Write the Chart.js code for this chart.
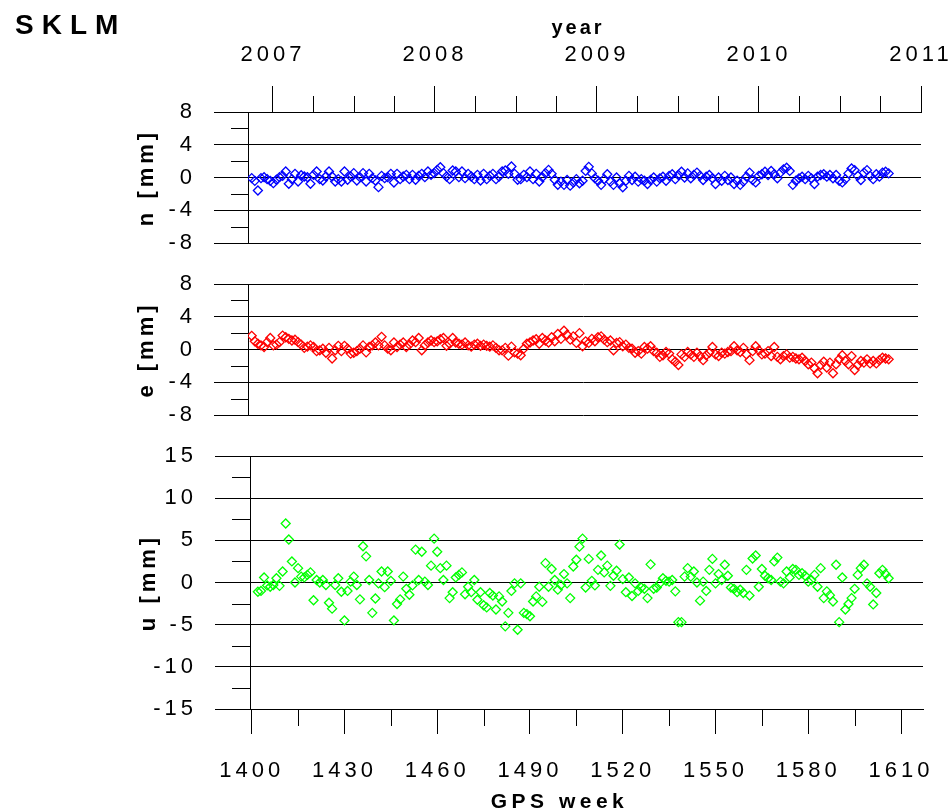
<!DOCTYPE html>
<html><head><meta charset="utf-8">
<script src="https://cdn.jsdelivr.net/npm/chart.js@4.4.1/dist/chart.umd.min.js"></script>
<style>
html,body{margin:0;padding:0;background:#fff;}
#wrap{position:relative;width:949px;height:812px;overflow:hidden;background:#fff;font-family:'Liberation Sans',Arial,sans-serif;}
#wrap canvas{position:absolute;left:0;top:0;}
.lbl{position:absolute;font-weight:bold;color:#000;white-space:nowrap;line-height:1;text-align:center;}
</style></head><body>
<div id="wrap">
<canvas id="cn" width="949" height="812"></canvas>
<canvas id="ce" width="949" height="812"></canvas>
<canvas id="cu" width="949" height="812"></canvas>
<div class="lbl" style="left:15px;top:11px;font-size:28px;letter-spacing:8px;text-align:left;">SKLM</div>
<div class="lbl" style="left:375px;width:400px;top:17px;font-size:20px;letter-spacing:3px;padding-left:3px;">year</div>
<div class="lbl" style="left:355px;width:400px;top:790px;font-size:21px;letter-spacing:4.5px;padding-left:4.5px;">GPS week</div>
</div>
<script>
// ---------------- data ----------------
const weeks = [
1400,1401,1402,1403,1404,1405,1406,1407,1408,1409,1410,1411,1412,1413,1414,1415,1416,1417,1418,1419,
1420,1421,1422,1423,1424,1425,1426,1427,1428,1429,1430,1431,1432,1433,1434,1435,1436,1437,1438,1439,
1440,1441,1442,1443,1444,1445,1446,1447,1448,1449,1450,1451,1452,1453,1454,1455,1456,1457,1458,1459,
1460,1461,1462,1463,1464,1465,1466,1467,1468,1469,1470,1471,1472,1473,1474,1475,1476,1477,1478,1479,
1480,1481,1482,1483,1484,1485,1486,1487,1488,1489,1490,1491,1492,1493,1494,1495,1496,1497,1498,1499,
1500,1501,1502,1503,1504,1505,1506,1507,1508,1509,1510,1511,1512,1513,1514,1515,1516,1517,1518,1519,
1520,1521,1522,1523,1524,1525,1526,1527,1528,1529,1530,1531,1532,1533,1534,1535,1536,1537,1538,1539,
1540,1541,1542,1543,1544,1545,1546,1547,1548,1549,1550,1551,1552,1553,1554,1555,1556,1557,1558,1559,
1560,1561,1562,1563,1564,1565,1566,1567,1568,1569,1570,1571,1572,1573,1574,1575,1576,1577,1578,1579,
1580,1581,1582,1583,1584,1585,1586,1587,1588,1589,1590,1591,1592,1593,1594,1595,1596,1597,1598,1599,
1600,1601,1602,1603,1604,1605,1606];

const nValues = [
-0.08,-0.41,-1.59,-0.08,0.04,-0.2,-0.41,-0.69,-0.28,0.04,
0.2,0.73,-0.77,-0.2,0.45,-0.49,0.28,0.12,0.04,-0.77,
0.33,0.73,-0.2,-0.37,0.12,0.73,0.12,-0.49,-0.2,-0.49,
0.73,-0.28,0.12,0.53,-0.37,0.04,0.53,-0.49,0.45,-0.08,
-0.37,-1.18,0.2,-0.08,0.04,0.45,-0.61,0.45,-0.2,0.12,
0.33,-0.2,0.33,-0.28,0.2,0.45,0.04,0.73,0.33,0.53,
0.93,1.26,0.53,0.12,-0.2,0.85,0.73,0.04,0.73,-0.08,
0.45,0.12,-0.2,0.33,-0.37,0.45,-0.2,0.2,0.45,-0.2,
0.12,0.73,0.85,0.45,1.34,0.45,-0.28,-0.2,0.33,0.04,
0.73,-0.2,0.45,-0.49,0.04,0.53,0.93,0.45,-0.28,-0.89,
-0.5,-0.9,-0.3,-1.0,-0.6,-0.2,-0.7,-0.4,0.8,1.3,
0.5,-0.1,-0.4,-0.9,-0.2,0.4,-0.5,-0.9,0.0,-0.7,
-1.2,-0.4,0.2,-0.3,0.1,-0.5,-0.2,-0.4,-0.8,-0.3,
0.0,-0.5,-0.1,0.1,-0.4,0.2,0.4,-0.2,0.3,0.7,
0.0,0.5,-0.1,0.3,0.6,0.2,-0.3,0.1,0.3,-0.1,
-0.8,0.0,-0.4,0.2,-0.3,0.0,-0.8,-0.4,-0.9,-0.5,
0.1,0.6,-0.3,-0.6,0.2,0.4,0.7,0.3,0.8,0.4,
-0.1,0.6,1.0,1.2,0.8,-0.9,-0.4,-0.1,0.1,-0.2,
0.2,-0.1,-0.8,0.1,0.3,0.4,0.1,0.3,-0.1,0.3,
-0.4,-0.6,-0.2,0.5,1.1,0.9,0.2,-0.3,0.6,0.9,
0.2,-0.2,0.4,0.1,0.6,0.7,0.5];

const eValues = [
1.67,1.0,0.7,0.5,0.3,0.9,1.4,0.5,0.6,0.9,
1.7,1.5,1.3,1.1,1.2,0.9,0.6,0.2,0.35,0.5,
0.3,-0.2,-0.1,0.1,-0.4,0.2,-1.1,-0.1,0.45,-0.2,
0.45,0.1,-0.5,-0.4,-0.2,0.1,0.5,-0.35,0.3,0.5,
0.85,0.5,1.55,0.5,0.1,-0.1,0.85,0.3,0.6,0.85,
0.3,0.6,1.1,0.9,1.4,-0.1,0.5,0.85,1.1,0.9,
1.0,1.25,1.4,0.45,0.7,1.4,0.85,0.7,0.6,0.85,
0.5,0.35,0.6,0.7,0.45,0.6,0.45,0.35,0.5,0.2,
-0.1,-0.1,0.2,-0.75,0.35,-0.35,-0.5,-0.7,0.1,0.7,
0.85,1.1,1.25,0.7,1.4,1.1,0.85,
1.5,1.0,1.9,1.3,2.3,1.8,1.2,1.6,0.8,2.0,
0.4,1.0,0.8,1.3,1.0,1.5,1.6,1.2,0.9,1.1,
-0.1,0.8,0.9,0.4,0.6,0.2,0.1,-0.4,-0.2,-0.5,
0.3,0.1,0.4,-0.2,-0.4,-0.9,-0.7,-0.3,-0.5,-1.2,
-1.5,-1.9,-0.6,-0.9,-0.3,-0.6,-0.9,-0.4,-0.8,-1.3,
-0.7,-0.4,0.3,-0.6,-0.8,-0.4,-0.5,-0.3,-0.2,0.4,
-0.1,-0.3,0.2,-0.6,-1.3,-0.2,0.4,-0.1,-0.6,-0.5,
-0.2,-0.8,0.3,-0.9,-1.2,-0.8,-0.6,-1.0,-0.9,-1.1,
-1.2,-1.0,-1.4,-1.8,-1.6,-2.3,-2.9,-1.9,-1.5,-2.2,
-1.6,-2.9,-1.8,-1.2,-0.7,-1.4,-1.8,-0.8,-2.5,-1.9,
-1.4,-1.6,-1.2,-1.7,-1.4,-1.7,-1.3,-1.0,-1.1,-1.2];

const uValues = [
null,null,-1.1,-1.0,0.6,-0.35,-0.5,-0.3,0.5,-0.4,
1.3,7.0,5.1,2.5,0.0,1.7,0.7,0.6,0.9,1.2,
-2.1,0.3,0.0,0.3,-0.3,-2.4,-3.1,-0.3,0.5,-1.1,
-4.5,-1.0,0.1,0.7,-0.3,-2.0,4.3,3.1,0.3,-3.6,
-1.9,-0.1,1.3,-0.55,1.3,0.2,-4.5,-2.55,-2.0,0.7,
-0.75,-1.45,-0.35,3.9,0.3,3.65,0.1,-0.3,2.0,5.2,
3.65,1.7,0.3,2.0,-1.85,-1.15,0.6,0.9,1.2,-1.4,
-0.5,-1.15,0.3,-2.05,-1.15,-2.7,-2.95,-1.25,-1.55,-3.2,
-1.65,-2.25,-5.2,-3.6,-1.0,-0.1,-5.6,-0.1,-3.6,-3.75,
-4.0,-2.25,-1.65,-0.5,-2.3,2.3,-0.5,1.6,0.3,-0.85,
-0.3,1.0,-0.1,-1.85,1.9,2.7,4.25,5.2,-0.6,2.8,
0.2,-0.35,1.5,3.2,1.2,2.0,-0.4,0.8,1.4,4.5,
0.4,-1.15,0.6,-1.6,-0.1,-1.0,-0.6,-0.75,-1.85,2.15,
-0.75,-0.6,-0.1,0.5,0.2,0.1,0.3,-1.05,-4.7,-4.7,
0.7,1.7,0.7,1.3,0.0,-2.15,0.1,-1.0,1.5,2.8,
-0.1,1.0,0.3,2.1,0.8,-0.6,-0.75,-1.15,-0.85,-1.25,
1.5,-1.55,2.85,3.2,-0.5,1.6,0.8,0.5,0.3,2.5,
2.95,0.1,-0.1,1.3,0.6,1.6,1.5,0.9,1.1,0.8,
0.1,0.3,0.9,-0.5,1.7,-1.85,-1.05,-1.5,-2.25,2.1,
-4.7,0.6,-3.2,-2.55,-1.85,-0.75,0.9,1.7,2.1,-0.1,
-0.5,-2.6,-1.25,1.1,1.5,1.0,0.5];

const weekTicks = [1400,1430,1460,1490,1520,1550,1580,1610];
const weekMinorTicks = [1415,1445,1475,1505,1535,1565,1595];
const yearTicks = [2007,2008,2009,2010,2011];
const yearMinorTicks = [2007.25,2007.5,2007.75,2008.25,2008.5,2008.75,2009.25,2009.5,2009.75,2010.25,2010.5,2010.75];
const neTicks = [-8,-4,0,4,8];
const neMinorTicks = [-6,-2,2,6];
const uTicks = [-15,-10,-5,0,5,10,15];
const uMinorTicks = [-12.5,-7.5,-2.5,2.5,7.5,12.5];

// ---------------- helpers ----------------
const FONT = "'Liberation Sans', Arial, sans-serif";
const LS = '4px';
const spacingPlugin = {
  id: 'spacing',
  beforeUpdate(c){ c.ctx.letterSpacing = LS; },
  beforeLayout(c){ c.ctx.letterSpacing = LS; },
  beforeDraw(c){ c.ctx.letterSpacing = LS; }
};
function minorPlugin(list){
  return {
    id: 'minorTicks',
    afterDraw(chart){
      const ctx = chart.ctx;
      ctx.save();
      ctx.strokeStyle = '#000';
      ctx.lineWidth = 1;
      list.forEach(m => {
        const s = chart.scales[m.axis];
        m.values.forEach(v => {
          const p = Math.round(s.getPixelForValue(v)) + 0.5;
          ctx.beginPath();
          if (m.side === 'left') { ctx.moveTo(s.right - m.len, p); ctx.lineTo(s.right, p); }
          else if (m.side === 'top') { ctx.moveTo(p, s.bottom - m.len); ctx.lineTo(p, s.bottom); }
          else { ctx.moveTo(p, s.top); ctx.lineTo(p, s.top + m.len); }
          ctx.stroke();
        });
      });
      ctx.restore();
    }
  };
}
function pts(vals){
  const out = [];
  weeks.forEach((w,i) => { if (vals[i] !== null && vals[i] !== undefined) out.push({x:w, y:vals[i]}); });
  return out;
}
function ds(vals, color){
  return {
    data: pts(vals), showLine:false, pointStyle:'rectRot', pointRadius:4.5,
    pointBorderWidth:1.3, borderColor:color, backgroundColor:'rgba(0,0,0,0)',
    pointBackgroundColor:'rgba(0,0,0,0)', pointBorderColor:color
  };
}
function noPad(s){ s.paddingLeft = 0; s.paddingRight = 0; s.paddingTop = 0; s.paddingBottom = 0; }
function yAxis(min, max, ticksArr, title, width, tl){
  return {
    type:'linear', position:'left', min:min, max:max,
    afterBuildTicks: s => { s.ticks = ticksArr.map(v => ({value:v})); },
    afterFit: s => { s.width = width; noPad(s); },
    grid:{ color:'#000', lineWidth:1, tickLength:tl, drawTicks:true, drawOnChartArea:true },
    border:{ display:true, color:'#000', width:1 },
    ticks:{ color:'#000', padding:18, font:{family:FONT, size:22}, callback:v => String(v) },
    title:{ display:true, text:title, color:'#000', font:{family:FONT, size:22, weight:'bold'}, padding:{top:width-114, bottom:0} }
  };
}
function hiddenX(min,max){
  return { type:'linear', min:min, max:max, display:false };
}
const common = {
  responsive:false, animation:false, devicePixelRatio:1, events:[],
  plugins:{ legend:{display:false}, tooltip:{enabled:false}, title:{display:false} }
};

// ---------------- panel n ----------------
new Chart(document.getElementById('cn'), {
  type:'scatter',
  data:{ datasets:[ ds(nValues, '#0000ff') ] },
  options: Object.assign({}, common, {
    layout:{ padding:{ left:0, right:949-921, top:0, bottom:812-243 } },
    scales:{
      x: hiddenX(1398.80, 1616.46),
      year:{
        type:'linear', position:'top', min:2006.846, max:2011.0,
        afterBuildTicks: s => { s.ticks = yearTicks.map(v => ({value:v})); },
        afterFit: s => { s.height = 112; noPad(s); },
        grid:{ color:'#000', tickLength:26, drawOnChartArea:false },
        border:{ display:true, color:'#000' },
        ticks:{ color:'#000', padding:18, maxRotation:0, autoSkip:false, font:{family:FONT, size:22}, callback:v => String(v) }
      },
      y: yAxis(-8, 8, neTicks, 'n [mm]', 248, 34)
    }
  }),
  plugins:[ spacingPlugin, minorPlugin([
    {axis:'y', side:'left', values:neMinorTicks, len:17},
    {axis:'year', side:'top', values:yearMinorTicks, len:16}
  ]) ]
});

// ---------------- panel e ----------------
new Chart(document.getElementById('ce'), {
  type:'scatter',
  data:{ datasets:[ ds(eValues, '#ff0000') ] },
  options: Object.assign({}, common, {
    layout:{ padding:{ left:0, right:949-918, top:284, bottom:812-415 } },
    scales:{
      x: hiddenX(1398.80, 1615.49),
      y: yAxis(-8, 8, neTicks, 'e [mm]', 248, 34)
    }
  }),
  plugins:[ spacingPlugin, minorPlugin([
    {axis:'y', side:'left', values:neMinorTicks, len:17}
  ]) ]
});

// ---------------- panel u ----------------
new Chart(document.getElementById('cu'), {
  type:'scatter',
  data:{ datasets:[ ds(uValues, '#00ff00') ] },
  options: Object.assign({}, common, {
    layout:{ padding:{ left:0, right:949-923, top:456, bottom:0 } },
    scales:{
      x:{
        type:'linear', position:'bottom', min:1399.45, max:1617.11,
        afterBuildTicks: s => { s.ticks = weekTicks.map(v => ({value:v})); },
        afterFit: s => { s.height = 812-709; noPad(s); },
        grid:{ color:'#000', tickLength:25, drawOnChartArea:false },
        border:{ display:true, color:'#000' },
        ticks:{ color:'#000', padding:24, maxRotation:0, autoSkip:false, font:{family:FONT, size:22}, callback:v => String(v) }
      },
      y: yAxis(-15, 15, uTicks, 'u [mm]', 250, 35)
    }
  }),
  plugins:[ spacingPlugin, minorPlugin([
    {axis:'y', side:'left', values:uMinorTicks, len:18},
    {axis:'x', side:'bottom', values:weekMinorTicks, len:17}
  ]) ]
});
</script>
</body></html>
